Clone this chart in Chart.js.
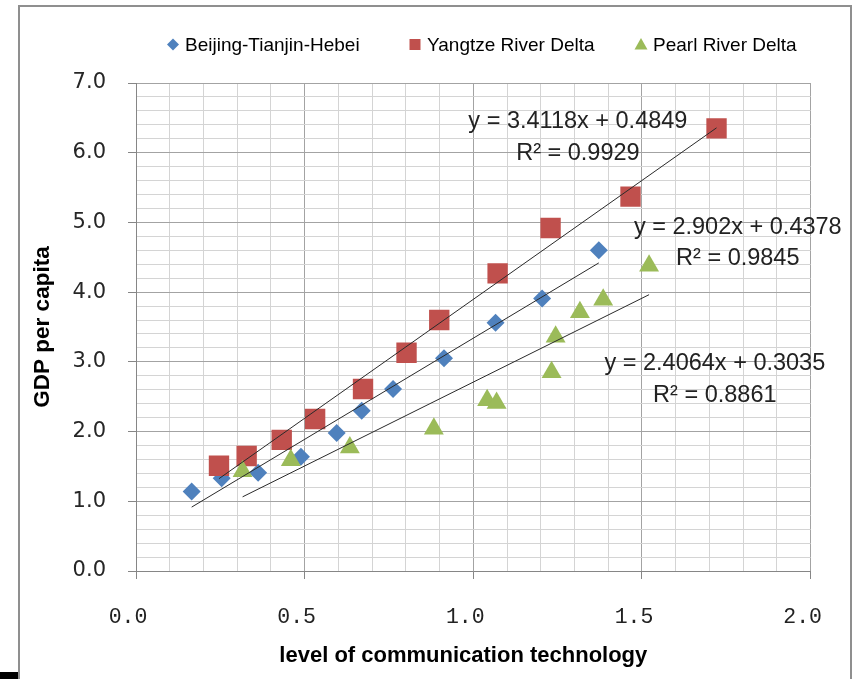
<!DOCTYPE html>
<html>
<head>
<meta charset="utf-8">
<title>GDP per capita vs communication technology</title>
<script src="https://cdn.jsdelivr.net/npm/chart.js@4.4.1/dist/chart.umd.min.js"></script>
<style>
  html, body { margin: 0; padding: 0; background: #ffffff; }
  #wrap { position: relative; width: 855px; height: 679px; }
  canvas { display: block; }
</style>
</head>
<body>
<div id="wrap"><canvas id="chart" width="855" height="679"></canvas></div>
<script>
// ---- data ----
const seriesNames = ['Beijing-Tianjin-Hebei', 'Yangtze River Delta', 'Pearl River Delta'];

const bthX = [0.165, 0.254, 0.362, 0.489, 0.595, 0.669, 0.762, 0.913, 1.066, 1.204, 1.372];
const bthY = [1.14, 1.33, 1.41, 1.64, 1.98, 2.30, 2.61, 3.05, 3.56, 3.91, 4.60];

const yrdX = [0.246, 0.328, 0.432, 0.531, 0.673, 0.802, 0.899, 1.072, 1.229, 1.466, 1.721];
const yrdY = [1.51, 1.65, 1.88, 2.18, 2.61, 3.13, 3.60, 4.27, 4.92, 5.37, 6.35];

const prdX = [0.316, 0.459, 0.634, 0.883, 1.041, 1.069, 1.232, 1.244, 1.316, 1.385, 1.521];
const prdY = [1.43, 1.59, 1.77, 2.04, 2.45, 2.41, 2.85, 3.36, 3.71, 3.89, 4.38];

// linear trend fits (y = slope * x + intercept) and their R² values
const trendSlopes = [2.902, 3.4118, 2.4064];
const trendIntercepts = [0.4378, 0.4849, 0.3035];
const trendR2 = ['0.9845', '0.9929', '0.8861'];

const xTickLabels = ['0.0', '0.5', '1.0', '1.5', '2.0'];
const yTickLabels = ['0.0', '1.0', '2.0', '3.0', '4.0', '5.0', '6.0', '7.0'];

const xTitle = 'level of communication technology';
const yTitle = 'GDP per capita';

// ---- styling ----
const colors = ['#4F81BD', '#C0504D', '#9BBB59'];
const markerStyles = ['rectRot', 'rect', 'triangle'];
const markerRadii = [9, 14.4, 11.5];

// where each trend equation is centred, in axis units
const equationAnchors = [
  { x: 1.784, y: 4.96 },
  { x: 1.310, y: 6.47 },
  { x: 1.716, y: 3.00 }
];
// legend marker centres (px)
const legendMarkerX = [173, 415, 641];

function toPoints(xs, ys) {
  return xs.map((x, i) => ({ x: x, y: ys[i] }));
}
function trendPoints(xs, k) {
  const lo = Math.min(...xs), hi = Math.max(...xs);
  return [
    { x: lo, y: trendSlopes[k] * lo + trendIntercepts[k] },
    { x: hi, y: trendSlopes[k] * hi + trendIntercepts[k] }
  ];
}

const seriesX = [bthX, yrdX, prdX];
const seriesY = [bthY, yrdY, prdY];

const datasets = [];
// trend lines are drawn above the markers
for (let k = 0; k < 3; k++) {
  datasets.push({
    type: 'line',
    label: seriesNames[k] + ' trend',
    data: trendPoints(seriesX[k], k),
    borderColor: '#2a2a2a',
    borderWidth: 1,
    pointRadius: 0,
    fill: false,
    order: 0
  });
}
// later series sit on top of earlier ones
for (let k = 0; k < 3; k++) {
  datasets.push({
    type: 'scatter',
    label: seriesNames[k],
    data: toPoints(seriesX[k], seriesY[k]),
    backgroundColor: colors[k],
    borderColor: colors[k],
    borderWidth: 0,
    pointStyle: markerStyles[k],
    pointRadius: markerRadii[k],
    pointHoverRadius: markerRadii[k],
    order: 3 - k
  });
}

const MAJOR = '#a3a3a3';
const MINOR = '#d4d4d4';
const AXIS = '#868686';

function drawLegendMarker(ctx, style, x, y, color) {
  ctx.save();
  ctx.fillStyle = color;
  ctx.beginPath();
  if (style === 'rectRot') {
    const r = 6;
    ctx.moveTo(x, y - r); ctx.lineTo(x + r, y); ctx.lineTo(x, y + r); ctx.lineTo(x - r, y);
  } else if (style === 'rect') {
    ctx.rect(x - 5.5, y - 5.5, 11, 11);
  } else {
    ctx.moveTo(x, y - 6.5); ctx.lineTo(x + 6.5, y + 5); ctx.lineTo(x - 6.5, y + 5);
  }
  ctx.closePath();
  ctx.fill();
  ctx.restore();
}

const decorations = {
  id: 'decorations',
  beforeDraw(chart) {
    const ctx = chart.ctx;
    ctx.save();
    ctx.fillStyle = '#ffffff';
    ctx.fillRect(0, 0, chart.width, chart.height);
    ctx.restore();
  },
  afterDraw(chart) {
    const ctx = chart.ctx;
    const xs = chart.scales.x, ys = chart.scales.y;
    const area = chart.chartArea;
    ctx.save();

    // outer chart frame
    ctx.strokeStyle = '#8f8f8f';
    ctx.lineWidth = 2;
    ctx.strokeRect(19, 6, 832, 700);
    ctx.fillStyle = '#000000';
    ctx.fillRect(0, 672, 18, 7);

    // legend
    ctx.font = '19px "Liberation Sans", Arial, sans-serif';
    ctx.textAlign = 'left';
    ctx.textBaseline = 'alphabetic';
    for (let k = 0; k < 3; k++) {
      const mx = legendMarkerX[k];
      drawLegendMarker(ctx, markerStyles[k], mx, 44.5, colors[k]);
      ctx.fillStyle = '#000000';
      ctx.fillText(seriesNames[k], mx + 12, 51);
    }

    // trend equations
    ctx.font = '23.5px "Liberation Sans", Arial, sans-serif';
    ctx.fillStyle = '#222222';
    ctx.textAlign = 'center';
    for (let k = 0; k < 3; k++) {
      const cx = xs.getPixelForValue(equationAnchors[k].x);
      const cy = ys.getPixelForValue(equationAnchors[k].y);
      const eq = 'y = ' + trendSlopes[k] + 'x + ' + trendIntercepts[k];
      ctx.fillText(eq, cx, cy + 8.4);
      ctx.fillText('R\u00B2 = ' + trendR2[k], cx, cy + 8.4 + 31.5);
    }

    // x axis title
    ctx.font = 'bold 22px "Liberation Sans", Arial, sans-serif';
    ctx.fillStyle = '#000000';
    ctx.textAlign = 'center';
    ctx.fillText(xTitle, (area.left + area.right) / 2 - 10, 662);

    ctx.restore();
  }
};

new Chart(document.getElementById('chart'), {
  type: 'scatter',
  data: { datasets: datasets },
  plugins: [decorations],
  options: {
    responsive: false,
    animation: false,
    devicePixelRatio: 1,
    layout: { padding: { top: 83, right: 44, bottom: 0, left: 0 } },
    plugins: {
      legend: { display: false },
      tooltip: { enabled: false },
      title: { display: false }
    },
    scales: {
      x: {
        type: 'linear',
        position: 'bottom',
        min: 0,
        max: 2,
        afterFit(scale) { scale.height = 108; },
        ticks: {
          stepSize: 0.1,
          maxTicksLimit: 100,
          autoSkip: false,
          maxRotation: 0,
          minRotation: 0,
          padding: 25,
          labelOffset: -8,
          color: '#222222',
          font: { family: '"Liberation Mono", "DejaVu Sans Mono", monospace', size: 21.5 },
          callback(value) {
            const k = Math.round(value * 10);
            return k % 5 === 0 ? xTickLabels[k / 5] : '';
          }
        },
        grid: {
          drawTicks: true,
          tickLength: 8,
          lineWidth: 1,
          color(c) {
            const k = Math.round(c.tick.value * 10);
            return k % 5 === 0 ? MAJOR : MINOR;
          },
          tickColor(c) {
            const k = Math.round(c.tick.value * 10);
            return k % 5 === 0 ? AXIS : 'rgba(0,0,0,0)';
          }
        },
        border: { display: true, color: AXIS, width: 1 }
      },
      y: {
        type: 'linear',
        position: 'left',
        min: 0,
        max: 7,
        afterFit(scale) { scale.width = 136; },
        ticks: {
          stepSize: 0.2,
          maxTicksLimit: 100,
          autoSkip: false,
          padding: 22,
          color: '#262626',
          font: { family: '"DejaVu Sans", sans-serif', size: 21 },
          callback(value) {
            const k = Math.round(value * 5);
            return k % 5 === 0 ? yTickLabels[k / 5] : '';
          }
        },
        grid: {
          drawTicks: true,
          tickLength: 8,
          lineWidth: 1,
          color(c) {
            const k = Math.round(c.tick.value * 5);
            return k % 5 === 0 ? MAJOR : MINOR;
          },
          tickColor(c) {
            const k = Math.round(c.tick.value * 5);
            return k % 5 === 0 ? AXIS : 'rgba(0,0,0,0)';
          }
        },
        border: { display: true, color: AXIS, width: 1 },
        title: {
          display: true,
          text: yTitle,
          color: '#000000',
          font: { family: '"Liberation Sans", Arial, sans-serif', size: 22.5, weight: 'bold' },
          padding: { top: 29, bottom: 0 }
        }
      }
    }
  }
});
</script>
</body>
</html>
